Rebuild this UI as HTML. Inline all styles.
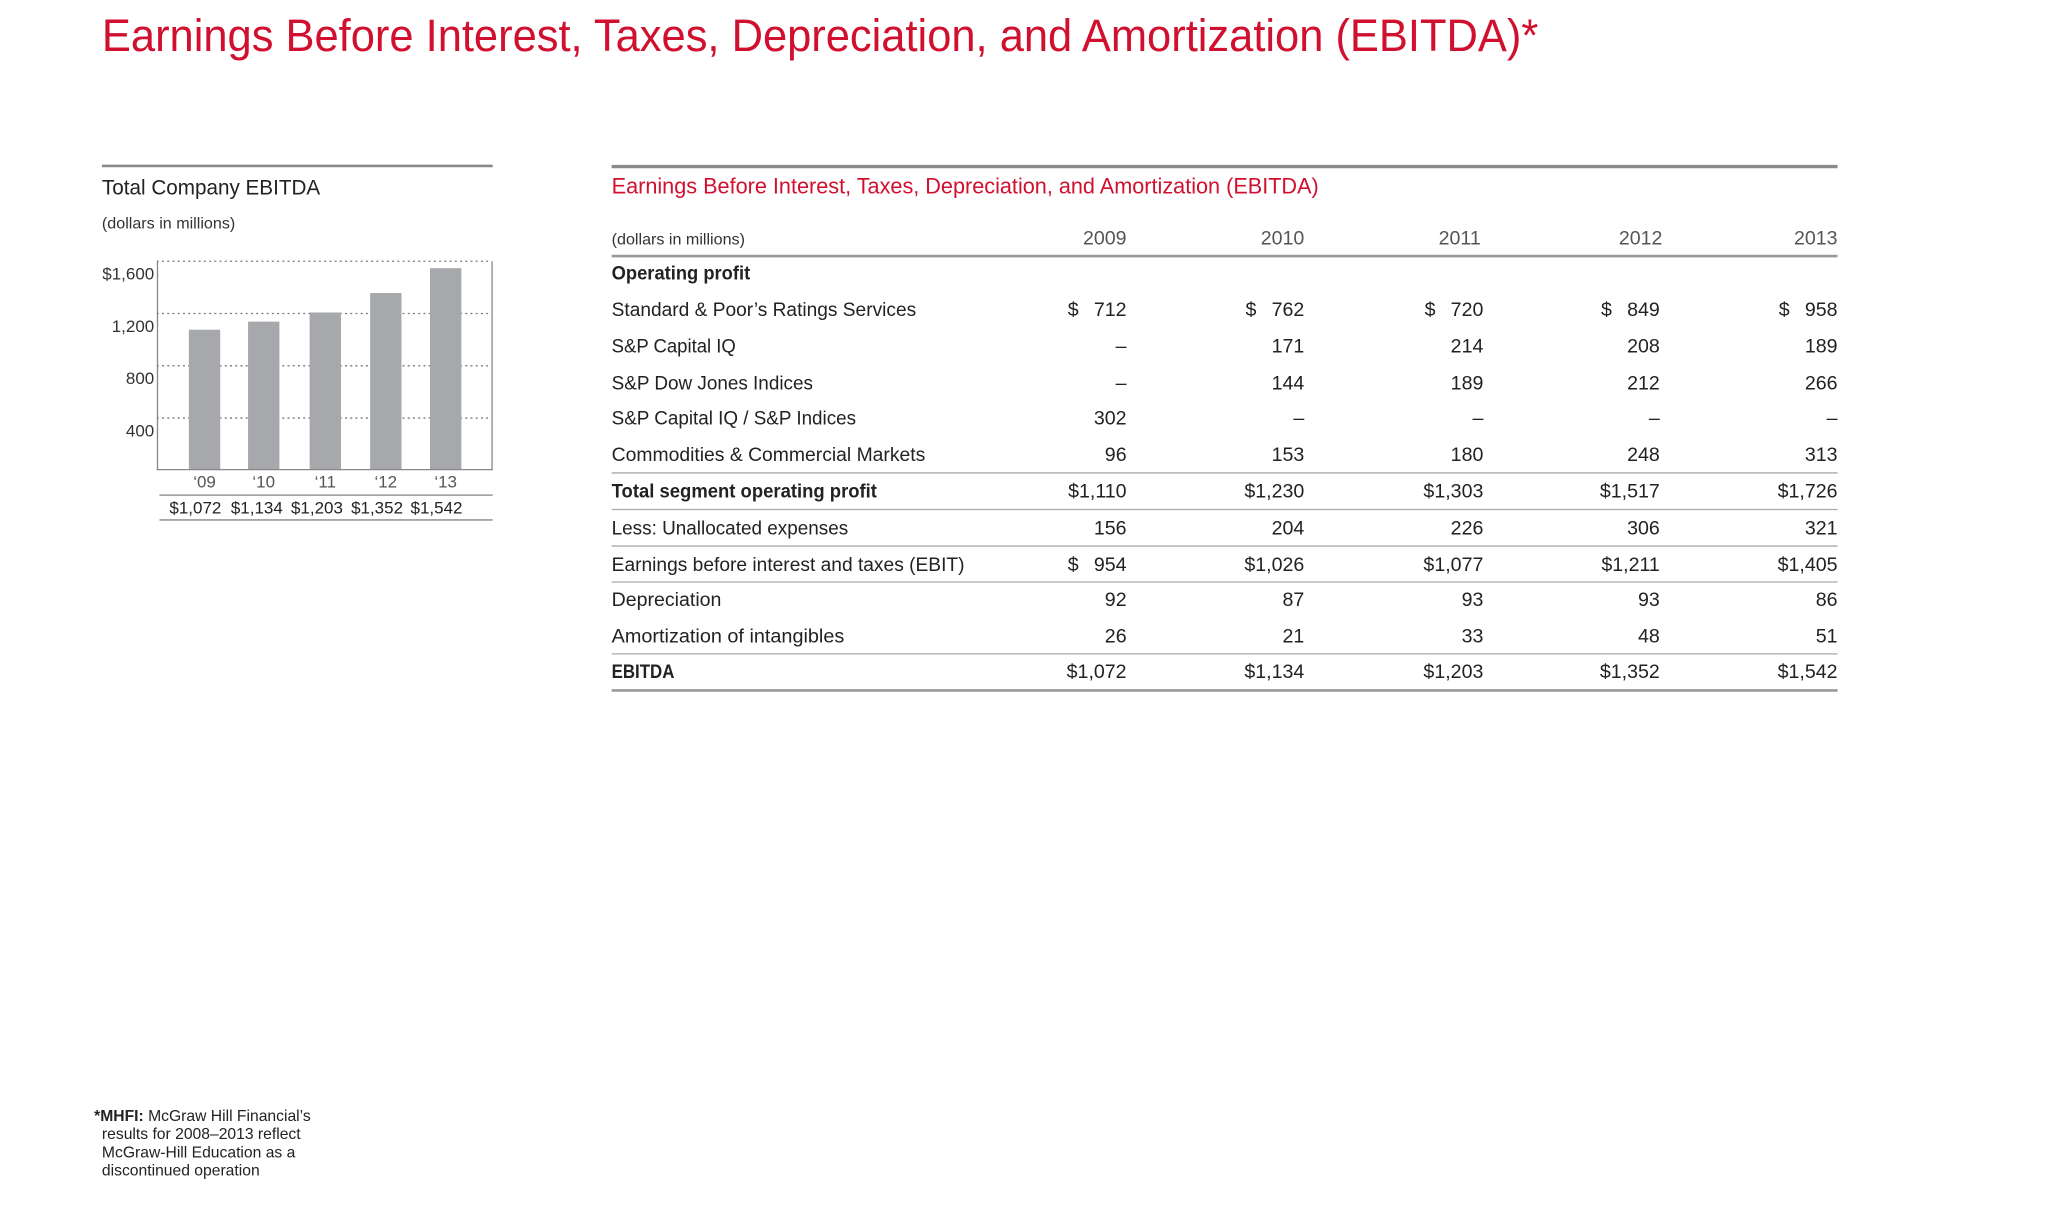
<!DOCTYPE html>
<html><head><meta charset="utf-8"><style>
html,body{margin:0;padding:0;background:#fff;}
svg{display:block;}
text{font-family:"Liberation Sans",sans-serif;}
</style></head><body>
<svg width="2048" height="1228" viewBox="0 0 1567 940" preserveAspectRatio="none" xmlns="http://www.w3.org/2000/svg">
<rect width="1567" height="940" fill="#fff"/>
<text x="78" y="39" font-size="35" fill="#d0102e" textLength="1099" lengthAdjust="spacingAndGlyphs">Earnings Before Interest, Taxes, Depreciation, and Amortization (EBITDA)*</text>

<!-- left chart -->
<line x1="78" y1="127" x2="377" y2="127" stroke="#8a8a8a" stroke-width="2"/>
<text x="78" y="149" font-size="16" fill="#222" textLength="167" lengthAdjust="spacingAndGlyphs">Total Company EBITDA</text>
<text x="78" y="175" font-size="12" fill="#333" textLength="102" lengthAdjust="spacingAndGlyphs">(dollars in millions)</text>
<g stroke="#777" stroke-width="1" stroke-dasharray="1.5,2.5">
<line x1="120" y1="200" x2="376" y2="200"/>
<line x1="120" y1="240" x2="376" y2="240"/>
<line x1="120" y1="280" x2="376" y2="280"/>
<line x1="120" y1="320" x2="376" y2="320"/>
</g>
<g fill="#a7a8ab">
<rect x="144.5" y="252.4" width="24" height="107.1"/>
<rect x="189.8" y="246.2" width="24" height="113.3"/>
<rect x="236.9" y="239.2" width="24" height="120.3"/>
<rect x="283.2" y="224.3" width="24" height="135.2"/>
<rect x="329" y="205.3" width="24" height="154.2"/>
</g>
<line x1="120.5" y1="200" x2="120.5" y2="360" stroke="#888" stroke-width="1"/>
<line x1="376.5" y1="200" x2="376.5" y2="360" stroke="#888" stroke-width="1"/>
<line x1="120" y1="359.5" x2="377" y2="359.5" stroke="#888" stroke-width="1"/>
<g font-size="13" fill="#333" text-anchor="end">
<text x="118" y="214">$1,600</text>
<text x="118" y="254">1,200</text>
<text x="118" y="294">800</text>
<text x="118" y="334">400</text>
</g>
<g font-size="13" fill="#555" text-anchor="middle">
<text x="156.5" y="373">‘09</text>
<text x="201.8" y="373">‘10</text>
<text x="248.9" y="373">‘11</text>
<text x="295.2" y="373">‘12</text>
<text x="341" y="373">‘13</text>
</g>
<line x1="122" y1="379" x2="377" y2="379" stroke="#999" stroke-width="1.2"/>
<g font-size="13" fill="#222" text-anchor="middle">
<text x="149.5" y="393">$1,072</text>
<text x="196.5" y="393">$1,134</text>
<text x="242.5" y="393">$1,203</text>
<text x="288.5" y="393">$1,352</text>
<text x="334" y="393">$1,542</text>
</g>
<line x1="122" y1="398" x2="377" y2="398" stroke="#999" stroke-width="1.2"/>

<!-- table -->
<line x1="468" y1="127.5" x2="1406" y2="127.5" stroke="#8a8a8a" stroke-width="2.5"/>
<text x="468" y="148" font-size="17" fill="#d0102e" textLength="541" lengthAdjust="spacingAndGlyphs">Earnings Before Interest, Taxes, Depreciation, and Amortization (EBITDA)</text>
<text x="468" y="187" font-size="12" fill="#333" textLength="102" lengthAdjust="spacingAndGlyphs">(dollars in millions)</text>
<g font-size="15" fill="#555" text-anchor="end">
<text x="862" y="187">2009</text><text x="998" y="187">2010</text><text x="1133" y="187">2011</text><text x="1272" y="187">2012</text><text x="1406" y="187">2013</text>
</g>
<line x1="468" y1="196" x2="1406" y2="196" stroke="#999" stroke-width="2"/>
<g font-size="15" fill="#222">
<text x="468" y="214" font-weight="bold" textLength="106" lengthAdjust="spacingAndGlyphs">Operating profit</text>
<text x="468" y="242" textLength="233" lengthAdjust="spacingAndGlyphs">Standard &amp; Poor’s Ratings Services</text>
<text x="468" y="270" textLength="95" lengthAdjust="spacingAndGlyphs">S&amp;P Capital IQ</text>
<text x="468" y="298" textLength="154" lengthAdjust="spacingAndGlyphs">S&amp;P Dow Jones Indices</text>
<text x="468" y="325" textLength="187" lengthAdjust="spacingAndGlyphs">S&amp;P Capital IQ / S&amp;P Indices</text>
<text x="468" y="353" textLength="240" lengthAdjust="spacingAndGlyphs">Commodities &amp; Commercial Markets</text>
<text x="468" y="381" font-weight="bold" textLength="203" lengthAdjust="spacingAndGlyphs">Total segment operating profit</text>
<text x="468" y="409" textLength="181" lengthAdjust="spacingAndGlyphs">Less: Unallocated expenses</text>
<text x="468" y="437" textLength="270" lengthAdjust="spacingAndGlyphs">Earnings before interest and taxes (EBIT)</text>
<text x="468" y="464" textLength="84" lengthAdjust="spacingAndGlyphs">Depreciation</text>
<text x="468" y="492" textLength="178" lengthAdjust="spacingAndGlyphs">Amortization of intangibles</text>
<text x="468" y="519" font-weight="bold" textLength="48" lengthAdjust="spacingAndGlyphs">EBITDA</text>
</g>
<g font-size="15" fill="#222">
<text x="817" y="242">$</text><text x="953" y="242">$</text><text x="1090" y="242">$</text><text x="1225" y="242">$</text><text x="1361" y="242">$</text>
<text x="817" y="437">$</text>
</g>
<g font-size="15" fill="#222" text-anchor="end">
<text x="862" y="242">712</text><text x="998" y="242">762</text><text x="1135" y="242">720</text><text x="1270" y="242">849</text><text x="1406" y="242">958</text>
<text x="862" y="270">–</text><text x="998" y="270">171</text><text x="1135" y="270">214</text><text x="1270" y="270">208</text><text x="1406" y="270">189</text>
<text x="862" y="298">–</text><text x="998" y="298">144</text><text x="1135" y="298">189</text><text x="1270" y="298">212</text><text x="1406" y="298">266</text>
<text x="862" y="325">302</text><text x="998" y="325">–</text><text x="1135" y="325">–</text><text x="1270" y="325">–</text><text x="1406" y="325">–</text>
<text x="862" y="353">96</text><text x="998" y="353">153</text><text x="1135" y="353">180</text><text x="1270" y="353">248</text><text x="1406" y="353">313</text>
<text x="862" y="381">$1,110</text><text x="998" y="381">$1,230</text><text x="1135" y="381">$1,303</text><text x="1270" y="381">$1,517</text><text x="1406" y="381">$1,726</text>
<text x="862" y="409">156</text><text x="998" y="409">204</text><text x="1135" y="409">226</text><text x="1270" y="409">306</text><text x="1406" y="409">321</text>
<text x="862" y="437">954</text><text x="998" y="437">$1,026</text><text x="1135" y="437">$1,077</text><text x="1270" y="437">$1,211</text><text x="1406" y="437">$1,405</text>
<text x="862" y="464">92</text><text x="998" y="464">87</text><text x="1135" y="464">93</text><text x="1270" y="464">93</text><text x="1406" y="464">86</text>
<text x="862" y="492">26</text><text x="998" y="492">21</text><text x="1135" y="492">33</text><text x="1270" y="492">48</text><text x="1406" y="492">51</text>
<text x="862" y="519">$1,072</text><text x="998" y="519">$1,134</text><text x="1135" y="519">$1,203</text><text x="1270" y="519">$1,352</text><text x="1406" y="519">$1,542</text>
</g>
<g stroke="#aaa" stroke-width="1">
<line x1="468" y1="362" x2="1406" y2="362"/>
<line x1="468" y1="390" x2="1406" y2="390"/>
<line x1="468" y1="418" x2="1406" y2="418"/>
<line x1="468" y1="445.5" x2="1406" y2="445.5"/>
<line x1="468" y1="500.5" x2="1406" y2="500.5"/>
</g>
<line x1="468" y1="528.5" x2="1406" y2="528.5" stroke="#999" stroke-width="2"/>

<!-- footnote -->
<g font-size="12" fill="#222">
<text x="72" y="858"><tspan font-weight="bold">*MHFI:</tspan> McGraw Hill Financial’s</text>
<text x="78" y="872">results for 2008–2013 reflect</text>
<text x="78" y="886">McGraw-Hill Education as a</text>
<text x="78" y="900">discontinued operation</text>
</g>
</svg>
</body></html>
